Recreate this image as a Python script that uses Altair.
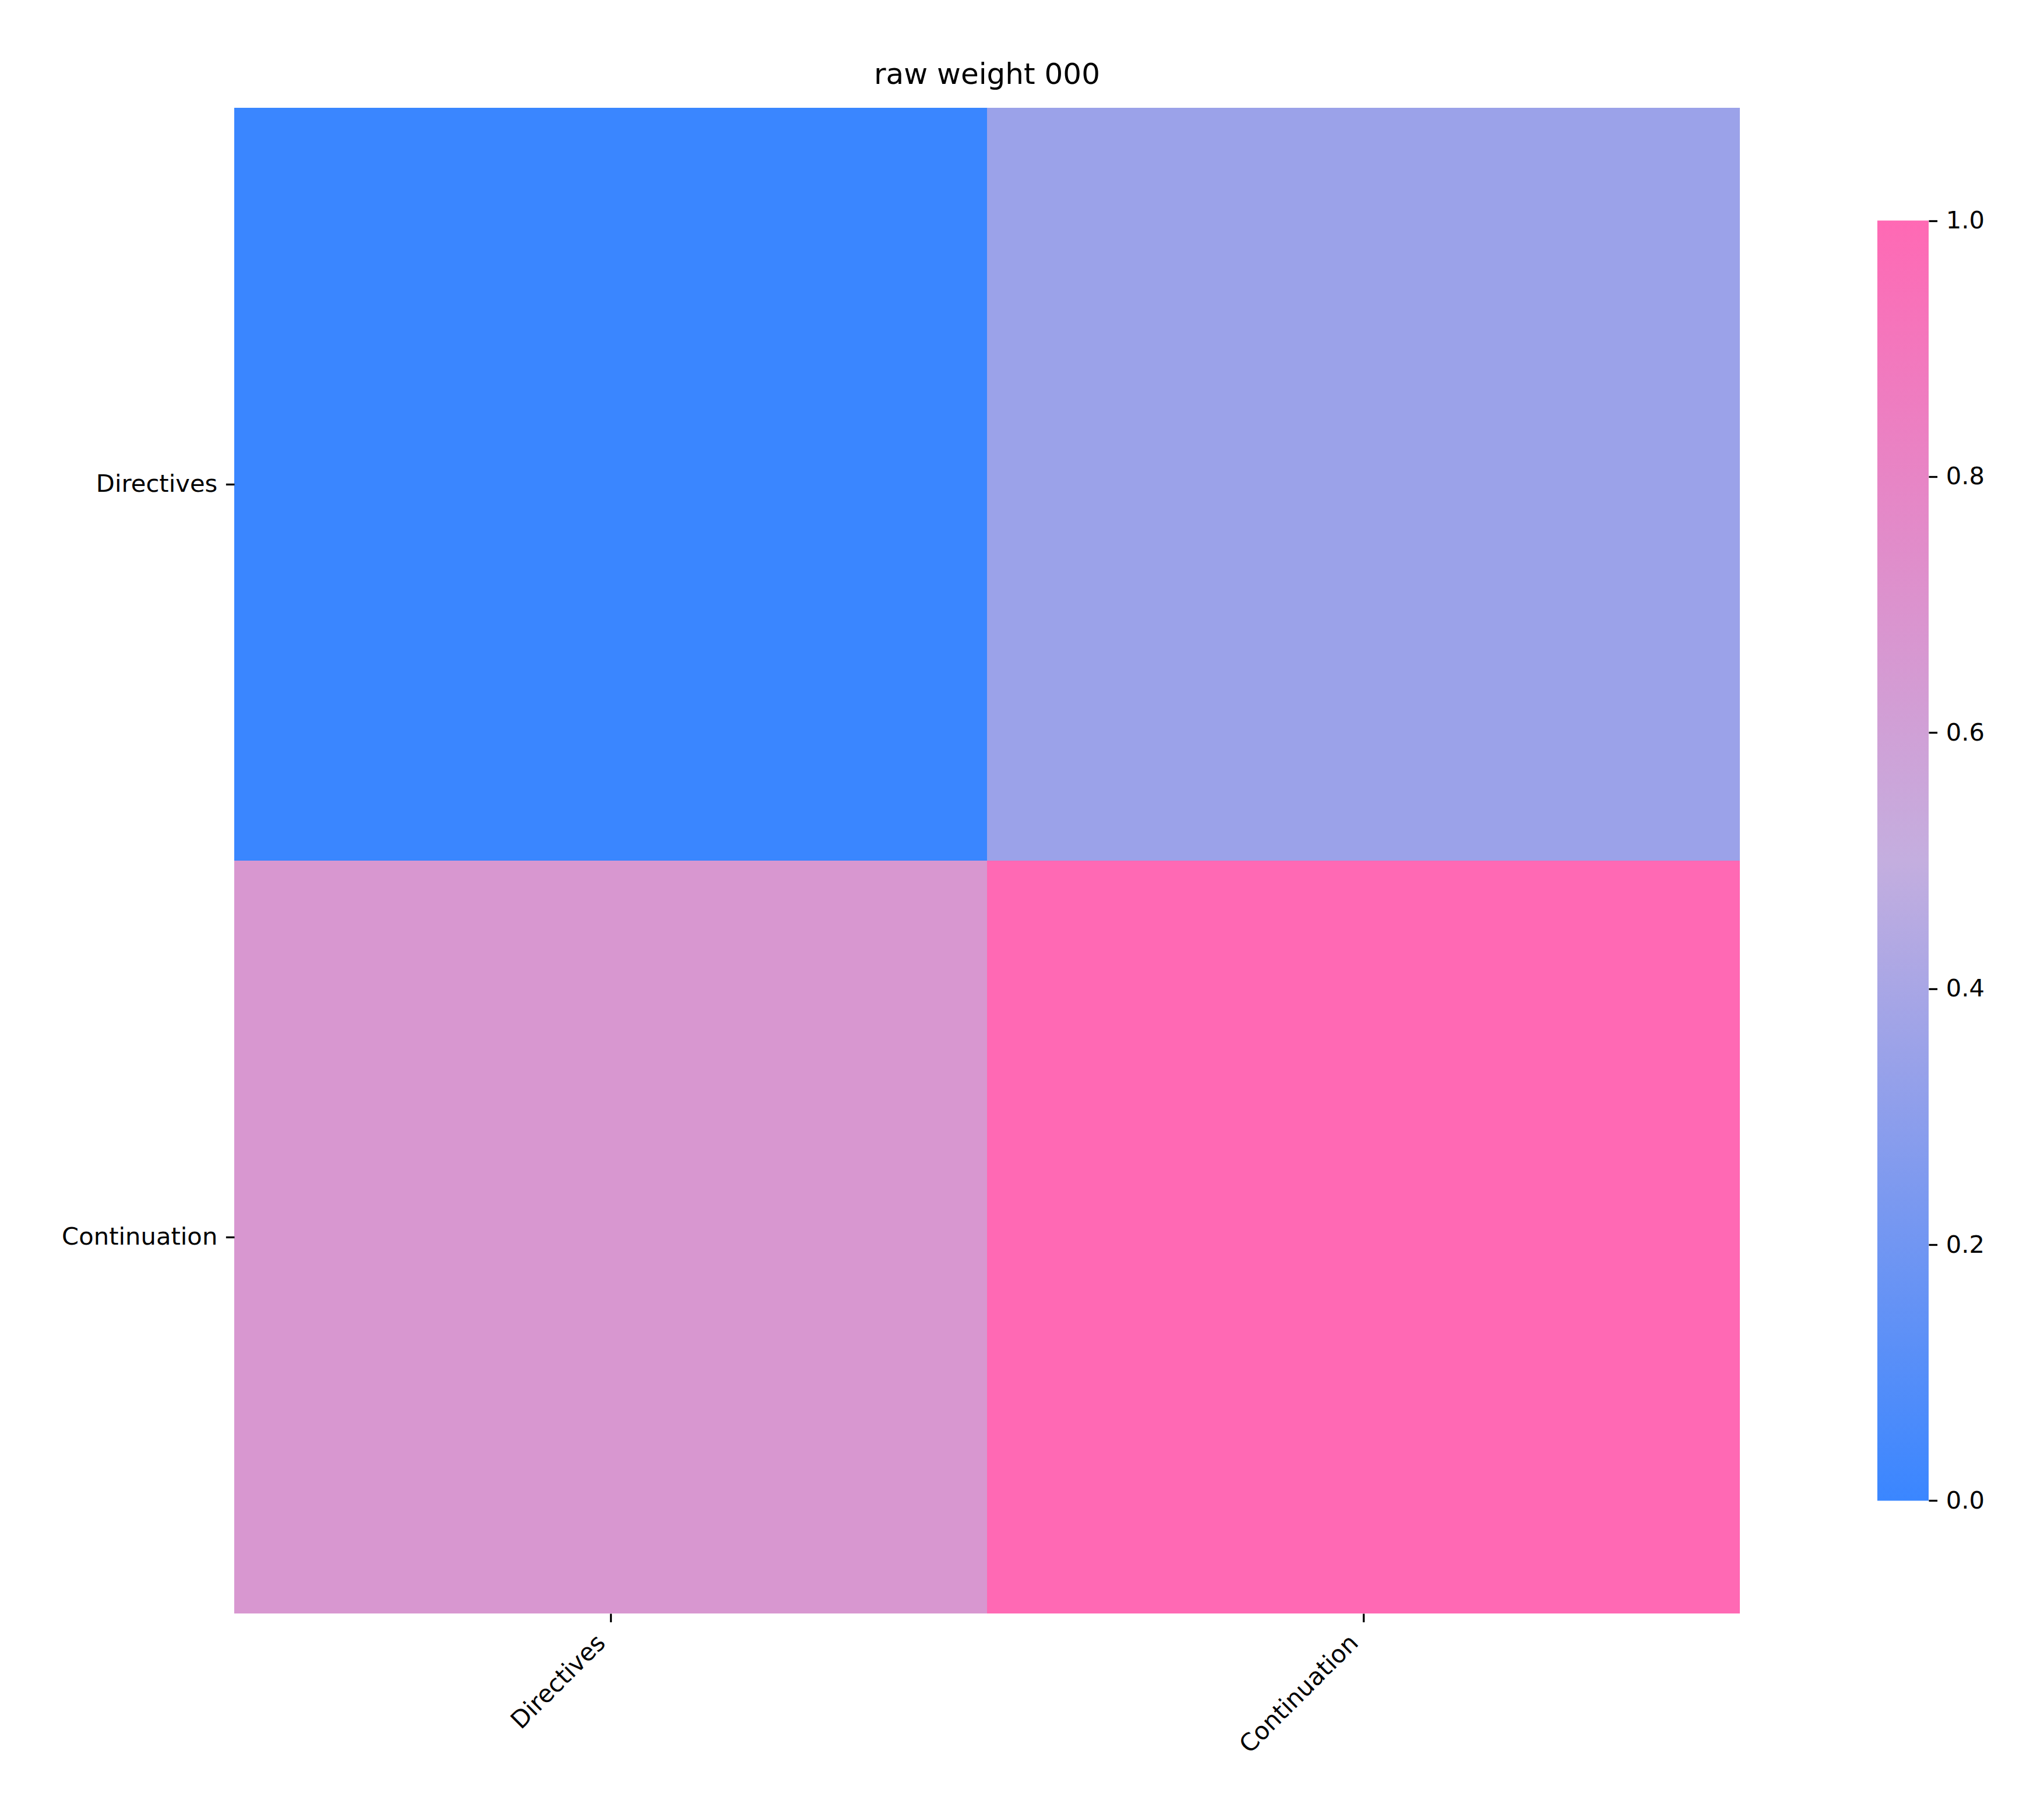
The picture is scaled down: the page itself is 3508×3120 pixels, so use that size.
import altair as alt
import pandas as pd

# ---- data ----
row_labels = ["Directives", "Continuation"]
col_labels = ["Directives", "Continuation"]
cell_values = [
    [0.0, 0.35],
    [0.67, 1.0],
]
cbar_ticks = [0.0, 0.2, 0.4, 0.6, 0.8, 1.0]
cmap_colors = ["#3a86ff", "#c4aedf", "#ff69b4"]
title_text = "raw weight 000"

records = []
for i, r in enumerate(row_labels):
    for j, c in enumerate(col_labels):
        records.append({"row": r, "col": c, "value": cell_values[i][j]})
df = pd.DataFrame(records)

FONT = "DejaVu Sans"
TICK_FS = 41.7
TICK_LEN = 14.6
TICK_W = 3.3
NO_VIEW = alt.ViewBackground(stroke="transparent", strokeWidth=0)

heat = alt.Chart(df).mark_rect().encode(
    x=alt.X(
        "col:N", sort=col_labels, title=None,
        scale=alt.Scale(paddingInner=0, paddingOuter=0),
        axis=alt.Axis(
            orient="bottom", domain=False, grid=False,
            tickSize=TICK_LEN, tickWidth=TICK_W, tickColor="black",
            labelFontSize=TICK_FS, labelColor="black", labelFont=FONT,
            labelAngle=315, labelAlign="right", labelBaseline="top",
            labelPadding=TICK_LEN, labelOffset=-30, labelLimit=2000,
        ),
    ),
    y=alt.Y(
        "row:N", sort=row_labels, title=None,
        scale=alt.Scale(paddingInner=0, paddingOuter=0),
        axis=alt.Axis(
            orient="left", domain=False, grid=False,
            tickSize=TICK_LEN, tickWidth=TICK_W, tickColor="black",
            labelFontSize=TICK_FS, labelColor="black", labelFont=FONT,
            labelPadding=TICK_LEN, labelLimit=2000,
        ),
    ),
    color=alt.Color(
        "value:Q",
        scale=alt.Scale(domain=[0, 1], range=cmap_colors, interpolate="rgb"),
        legend=None,
    ),
).properties(
    width=2584, height=2584, view=NO_VIEW,
    title=alt.TitleParams(
        text=title_text, fontSize=50, font=FONT, fontWeight="normal",
        color="black", anchor="middle", frame="group",
        baseline="alphabetic", offset=-9,
    ),
)

cb_df = pd.DataFrame({"lo": [cbar_ticks[0]], "hi": [cbar_ticks[-1]]})
cb = alt.Chart(cb_df).mark_rect(
    strokeWidth=0,
    color=alt.Gradient(
        gradient="linear",
        stops=[
            alt.GradientStop(offset=0, color=cmap_colors[0]),
            alt.GradientStop(offset=0.5, color=cmap_colors[1]),
            alt.GradientStop(offset=1, color=cmap_colors[2]),
        ],
        x1=0, x2=0, y1=1, y2=0,
    ),
).encode(
    y=alt.Y(
        "lo:Q", title=None,
        scale=alt.Scale(domain=[-0.0881, 1.0881], nice=False, zero=False),
        axis=alt.Axis(
            orient="right", domain=False, grid=False, values=cbar_ticks,
            format=".1f", tickSize=TICK_LEN, tickWidth=TICK_W,
            tickColor="black", labelFontSize=TICK_FS, labelColor="black",
            labelFont=FONT, labelPadding=TICK_LEN,
        ),
    ),
    y2="hi:Q",
).properties(width=88, height=2584, view=NO_VIEW)

chart = alt.hconcat(heat, cb, spacing=236, bounds="flush").properties(
    padding={"left": 97, "top": 96, "right": 5, "bottom": 5},
    background="white",
).configure_view(stroke="transparent", strokeWidth=0).configure(font=FONT)

chart.save("out.html", embed_options={"renderer": "svg", "actions": False})
